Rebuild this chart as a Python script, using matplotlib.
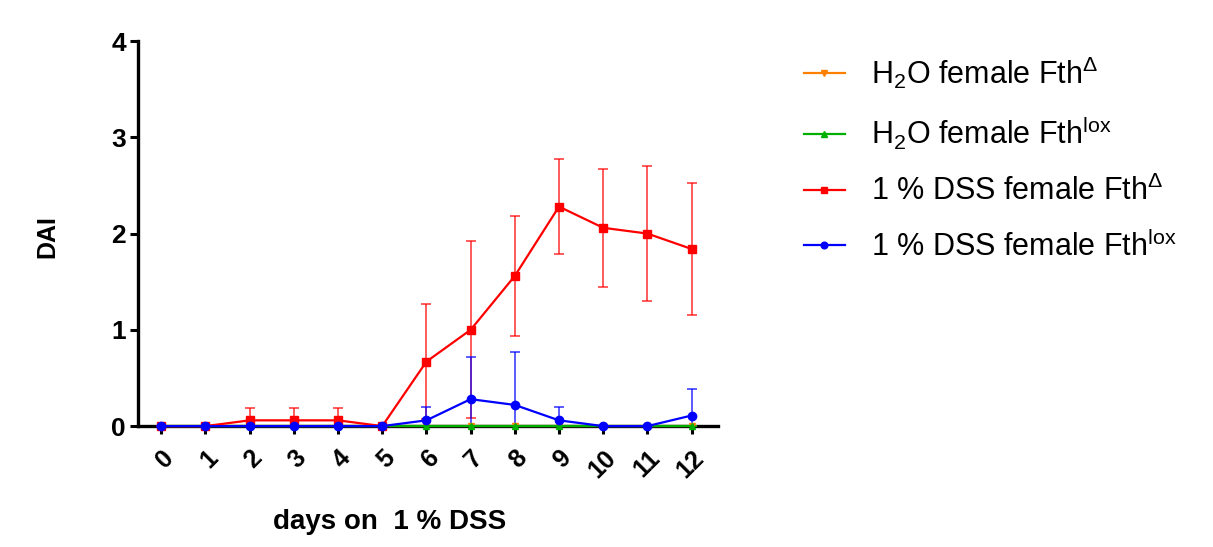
import matplotlib
matplotlib.use("Agg")
import matplotlib.pyplot as plt

plt.rcParams['font.family'] = ['Liberation Sans', 'DejaVu Sans']
plt.rcParams['mathtext.fontset'] = 'custom'
plt.rcParams['mathtext.rm'] = 'Liberation Sans'
plt.rcParams['mathtext.it'] = 'Liberation Sans:italic'
plt.rcParams['mathtext.bf'] = 'Liberation Sans:bold'

days = list(range(13))
day_labels = [str(d) for d in days]

h2o_delta = [0] * 13
h2o_delta_sd = [0] * 13
h2o_lox = [0] * 13
h2o_lox_sd = [0] * 13
dss_delta = [0, 0, 0.06, 0.06, 0.06, 0, 0.67, 1.0, 1.56, 2.28, 2.06, 2.0, 1.84]
dss_delta_sd = [0, 0, 0.13, 0.13, 0.13, 0, 0.60, 0.92, 0.62, 0.49, 0.61, 0.70, 0.69]
dss_lox = [0, 0, 0, 0, 0, 0, 0.06, 0.28, 0.22, 0.06, 0, 0, 0.11]
dss_lox_sd = [0, 0, 0, 0, 0, 0, 0.14, 0.44, 0.55, 0.14, 0, 0, 0.28]

series = [
    (h2o_delta, h2o_delta_sd, '#FF8000', 'v', 5, r'H$_2$O female Fth$^{\Delta}$'),
    (h2o_lox, h2o_lox_sd, '#00B000', '^', 5, r'H$_2$O female Fth$^{\mathrm{lox}}$'),
    (dss_delta, dss_delta_sd, '#FF0000', 's', 6, r'1 % DSS female Fth$^{\Delta}$'),
    (dss_lox, dss_lox_sd, '#0000FF', 'o', 6, r'1 % DSS female Fth$^{\mathrm{lox}}$'),
]

fig = plt.figure(figsize=(12.13, 5.47), dpi=100)
ax = fig.add_axes([0.114, 0.221, 0.478, 0.704])

for vals, sd, color, marker, ms, label in series:
    ax.errorbar(days, vals, yerr=sd, fmt='none', ecolor=color, elinewidth=1.2,
                capsize=3.5, capthick=1.2, alpha=0.75, zorder=2)
    ax.plot(days, vals, color=color, lw=1.6, marker=marker, ms=ms,
            label=label, clip_on=False, zorder=3)

ax.set_xlim(-0.52, 12.6)
ax.set_ylim(0, 4)
ax.set_yticks([0, 1, 2, 3, 4])
ax.set_xticks(days)
ax.set_xticklabels(day_labels, rotation=45, ha='right', va='top',
                   rotation_mode='anchor', fontsize=18, fontweight='bold')
for t in ax.get_yticklabels():
    t.set_fontsize(19)
    t.set_fontweight('bold')

for side in ('top', 'right'):
    ax.spines[side].set_visible(False)
for side in ('left', 'bottom'):
    ax.spines[side].set_linewidth(2.4)
    ax.spines[side].set_zorder(1)
ax.tick_params(axis='both', width=2.2, length=6, direction='out', pad=3)
ax.tick_params(axis='x', pad=8)

ax.set_ylabel('DAI', fontsize=18, fontweight='bold')
ax.yaxis.set_label_coords(-0.136, 0.493)
ax.set_xlabel('days on  1 % DSS', fontsize=20, fontweight='bold')
ax.xaxis.set_label_coords(0.434, -0.215)

handles, labels = ax.get_legend_handles_labels()
leg = fig.legend(handles, labels, loc='upper left', bbox_to_anchor=(0.640, 0.950),
                 frameon=False, fontsize=22, handlelength=1.35, handletextpad=0.85,
                 labelspacing=0.78, markerscale=0.8)

fig.savefig('out.png', dpi=100)
